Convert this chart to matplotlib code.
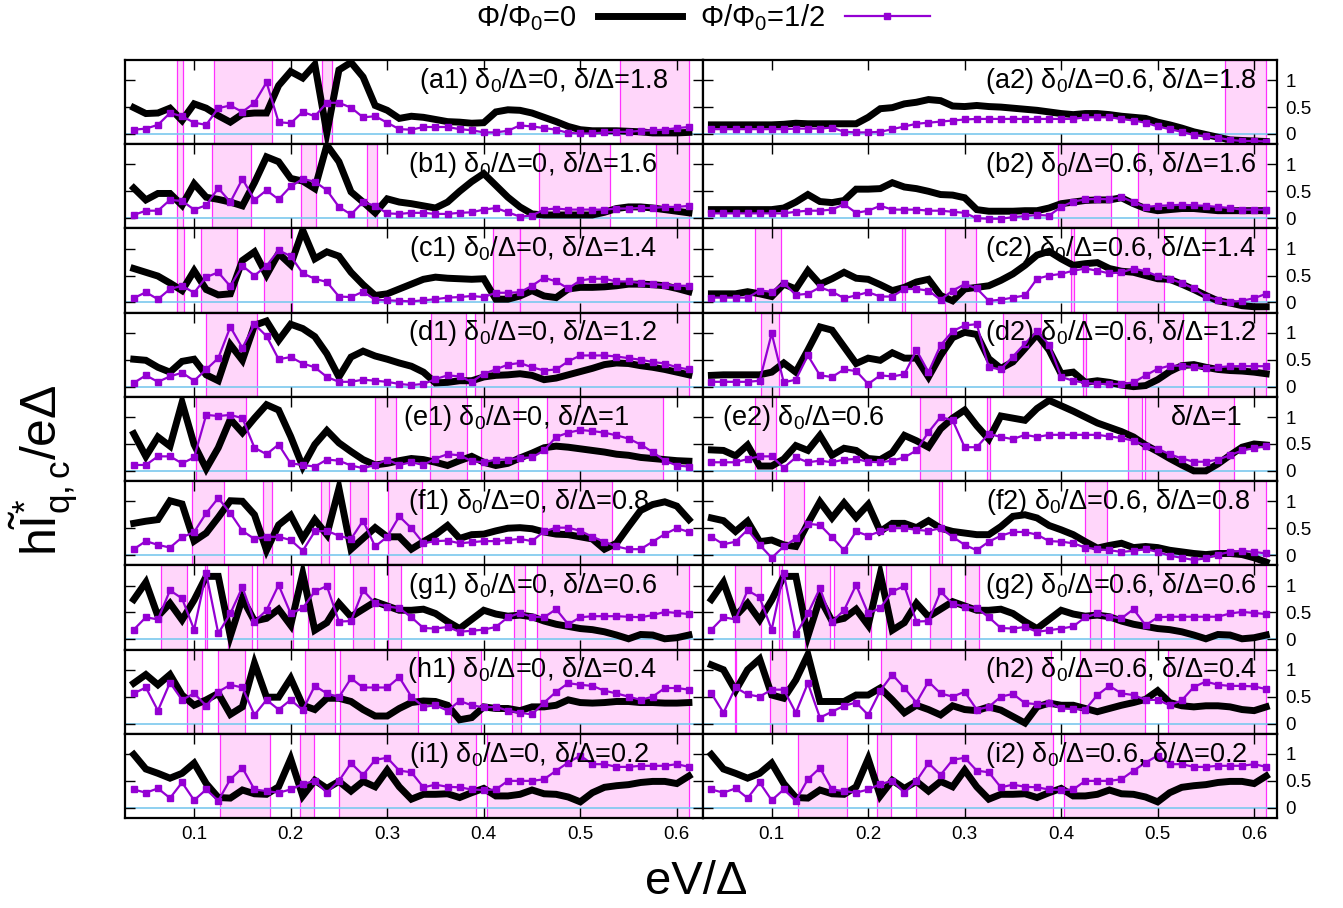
import matplotlib
matplotlib.use('Agg')
import matplotlib.pyplot as plt
from matplotlib.lines import Line2D

plt.rcParams['font.family'] = ['Liberation Sans', 'DejaVu Sans']
plt.rcParams['mathtext.fontset'] = 'custom'
plt.rcParams['mathtext.rm'] = 'Liberation Sans'
plt.rcParams['mathtext.it'] = 'Liberation Sans'
plt.rcParams['mathtext.bf'] = 'Liberation Sans:bold'
plt.rcParams['mathtext.default'] = 'regular'

# ---------------- data ----------------
eV = [0.0375, 0.05, 0.0625, 0.075, 0.0875, 0.1, 0.1125, 0.125, 0.1375, 0.15,
      0.1625, 0.175, 0.1875, 0.2, 0.2125, 0.225, 0.2375, 0.25, 0.2625, 0.275,
      0.2875, 0.3, 0.3125, 0.325, 0.3375, 0.35, 0.3625, 0.375, 0.3875, 0.4,
      0.4125, 0.425, 0.4375, 0.45, 0.4625, 0.475, 0.4875, 0.5, 0.5125, 0.525,
      0.5375, 0.55, 0.5625, 0.575, 0.5875, 0.6, 0.6125]

a1_black = [0.49, 0.38, 0.39, 0.48, 0.25, 0.56, 0.48, 0.34, 0.22, 0.37,
            0.39, 0.39, 0.90, 1.16, 1.04, 1.29, 0.02, 1.19, 1.33, 1.06,
            0.53, 0.44, 0.29, 0.33, 0.31, 0.27, 0.23, 0.22, 0.20, 0.21,
            0.41, 0.45, 0.44, 0.39, 0.31, 0.23, 0.14, 0.08, 0.06, 0.06,
            0.06, 0.05, 0.04, 0.02, 0.02, 0.02, 0.03]
a1_purple = [0.08, 0.10, 0.17, 0.39, 0.33, 0.21, 0.17, 0.48, 0.53, 0.41,
             0.58, 0.96, 0.22, 0.20, 0.41, 0.33, 0.58, 0.58, 0.49, 0.31,
             0.33, 0.21, 0.09, 0.08, 0.13, 0.13, 0.13, 0.09, 0.07, 0.03,
             0.03, 0.06, 0.16, 0.14, 0.11, 0.08, 0.02, 0.01, 0.01, 0.03,
             0.04, 0.04, 0.06, 0.07, 0.08, 0.11, 0.13]
b1_black = [0.56, 0.34, 0.46, 0.46, 0.24, 0.64, 0.39, 0.35, 0.30, 0.23,
            0.66, 1.14, 1.05, 0.74, 0.69, 0.55, 1.36, 1.05, 0.49, 0.30,
            0.10, 0.36, 0.30, 0.27, 0.23, 0.19, 0.30, 0.50, 0.68, 0.83,
            0.61, 0.39, 0.21, 0.08, 0.06, 0.06, 0.06, 0.06, 0.06, 0.11,
            0.18, 0.21, 0.21, 0.19, 0.16, 0.13, 0.10]
b1_purple = [0.06, 0.14, 0.14, 0.34, 0.32, 0.16, 0.24, 0.56, 0.30, 0.73,
             0.34, 0.52, 0.35, 0.59, 0.73, 0.68, 0.52, 0.21, 0.07, 0.30,
             0.23, 0.09, 0.08, 0.10, 0.10, 0.08, 0.08, 0.10, 0.11, 0.16,
             0.19, 0.11, 0.03, 0.05, 0.16, 0.18, 0.16, 0.16, 0.16, 0.16,
             0.18, 0.18, 0.19, 0.19, 0.21, 0.21, 0.23]
c1_black = [0.63, 0.56, 0.49, 0.36, 0.22, 0.59, 0.24, 0.14, 0.16, 0.78,
            0.94, 0.51, 0.91, 0.70, 1.34, 0.81, 0.94, 0.86, 0.56, 0.33,
            0.13, 0.16, 0.25, 0.34, 0.43, 0.47, 0.45, 0.44, 0.43, 0.44,
            0.06, 0.06, 0.12, 0.22, 0.12, 0.09, 0.25, 0.28, 0.28, 0.29,
            0.31, 0.34, 0.34, 0.33, 0.31, 0.26, 0.20]
c1_purple = [0.08, 0.19, 0.06, 0.25, 0.31, 0.18, 0.47, 0.56, 0.30, 0.68,
             0.50, 0.68, 0.97, 0.86, 0.54, 0.44, 0.38, 0.11, 0.10, 0.20,
             0.05, 0.04, 0.03, 0.02, 0.04, 0.06, 0.09, 0.10, 0.12, 0.10,
             0.18, 0.18, 0.19, 0.31, 0.46, 0.39, 0.26, 0.41, 0.44, 0.44,
             0.39, 0.39, 0.36, 0.34, 0.33, 0.31, 0.31]
d1_black = [0.51, 0.49, 0.36, 0.27, 0.47, 0.51, 0.22, 0.11, 0.78, 0.49,
            1.14, 1.22, 0.86, 1.16, 1.08, 0.93, 0.61, 0.18, 0.55, 0.66,
            0.57, 0.51, 0.44, 0.38, 0.27, 0.07, 0.08, 0.11, 0.11, 0.18,
            0.21, 0.22, 0.24, 0.21, 0.13, 0.16, 0.22, 0.28, 0.34, 0.41,
            0.44, 0.43, 0.39, 0.36, 0.32, 0.27, 0.22]
d1_purple = [0.07, 0.21, 0.09, 0.19, 0.26, 0.11, 0.32, 0.53, 1.11, 0.72,
             1.16, 0.94, 0.51, 0.55, 0.43, 0.36, 0.18, 0.09, 0.09, 0.13,
             0.11, 0.09, 0.05, 0.03, 0.05, 0.14, 0.21, 0.19, 0.09, 0.24,
             0.32, 0.41, 0.44, 0.36, 0.30, 0.32, 0.47, 0.58, 0.58, 0.58,
             0.56, 0.53, 0.50, 0.46, 0.43, 0.36, 0.32]
e1_black = [0.69, 0.27, 0.63, 0.46, 1.27, 0.49, 0.04, 0.43, 0.96, 0.71,
            0.98, 1.23, 1.13, 0.64, 0.08, 0.49, 0.75, 0.52, 0.36, 0.21,
            0.11, 0.14, 0.19, 0.23, 0.21, 0.16, 0.10, 0.19, 0.27, 0.16,
            0.10, 0.14, 0.24, 0.33, 0.43, 0.46, 0.44, 0.41, 0.38, 0.35,
            0.31, 0.29, 0.25, 0.23, 0.21, 0.19, 0.18]
e1_purple = [0.11, 0.11, 0.27, 0.27, 0.14, 0.25, 1.04, 1.02, 1.04, 0.98,
             0.43, 0.31, 0.49, 0.14, 0.11, 0.08, 0.21, 0.19, 0.10, 0.05,
             0.11, 0.21, 0.11, 0.16, 0.11, 0.23, 0.31, 0.29, 0.18, 0.16,
             0.21, 0.21, 0.24, 0.25, 0.38, 0.63, 0.71, 0.76, 0.74, 0.71,
             0.66, 0.60, 0.49, 0.35, 0.19, 0.10, 0.08]
f1_black = [0.59, 0.63, 0.66, 1.01, 0.95, 0.26, 0.41, 0.70, 1.01, 1.00,
            0.75, 0.09, 0.56, 0.74, 0.31, 0.66, 0.38, 1.24, 0.11, 0.31,
            0.51, 0.34, 0.34, 0.11, 0.25, 0.38, 0.55, 0.31, 0.38, 0.39,
            0.45, 0.50, 0.51, 0.49, 0.43, 0.39, 0.38, 0.34, 0.30, 0.11,
            0.22, 0.53, 0.83, 0.94, 0.99, 0.91, 0.66]
f1_purple = [0.11, 0.26, 0.19, 0.14, 0.33, 0.43, 0.78, 1.06, 0.78, 0.45,
             0.30, 0.34, 0.34, 0.28, 0.08, 0.44, 0.45, 0.36, 0.30, 0.64,
             0.16, 0.34, 0.72, 0.50, 0.22, 0.26, 0.27, 0.22, 0.24, 0.26,
             0.26, 0.28, 0.30, 0.26, 0.44, 0.51, 0.51, 0.45, 0.34, 0.25,
             0.16, 0.11, 0.11, 0.25, 0.39, 0.50, 0.43]
g1_black = [0.74, 1.06, 0.43, 0.67, 0.36, 0.73, 1.17, 1.17, 0.06, 0.76,
            0.34, 0.39, 0.56, 0.26, 1.22, 0.17, 0.31, 0.67, 0.42, 0.56,
            0.70, 0.62, 0.54, 0.54, 0.56, 0.48, 0.33, 0.20, 0.37, 0.54,
            0.47, 0.43, 0.45, 0.42, 0.34, 0.28, 0.24, 0.20, 0.18, 0.14,
            0.08, 0.01, 0.09, 0.08, 0.01, 0.03, 0.08]
g1_purple = [0.18, 0.41, 0.37, 0.91, 0.76, 0.18, 1.23, 0.11, 0.48, 0.97,
             0.33, 0.54, 1.01, 0.48, 0.58, 0.89, 0.99, 0.33, 0.34, 0.91,
             0.67, 0.61, 0.58, 0.41, 0.21, 0.20, 0.23, 0.14, 0.16, 0.18,
             0.23, 0.41, 0.49, 0.42, 0.41, 0.56, 0.28, 0.41, 0.43, 0.43,
             0.43, 0.42, 0.41, 0.45, 0.51, 0.49, 0.47]
h1_black = [0.75, 0.91, 0.72, 0.91, 0.53, 0.34, 0.44, 0.56, 0.17, 0.31,
            1.12, 0.49, 0.49, 0.84, 0.34, 0.26, 0.47, 0.47, 0.41, 0.26,
            0.14, 0.14, 0.28, 0.39, 0.42, 0.41, 0.34, 0.07, 0.11, 0.31,
            0.28, 0.28, 0.24, 0.31, 0.31, 0.34, 0.44, 0.39, 0.38, 0.39,
            0.41, 0.41, 0.39, 0.39, 0.38, 0.38, 0.39]
h1_purple = [0.56, 0.67, 0.24, 0.76, 0.44, 0.56, 0.33, 0.59, 0.72, 0.67,
             0.16, 0.44, 0.26, 0.44, 0.25, 0.70, 0.56, 0.49, 0.84, 0.67,
             0.67, 0.67, 0.86, 0.50, 0.31, 0.34, 0.24, 0.42, 0.34, 0.30,
             0.31, 0.24, 0.20, 0.17, 0.39, 0.59, 0.75, 0.72, 0.70, 0.61,
             0.56, 0.50, 0.44, 0.50, 0.66, 0.66, 0.63]
i1_black = [0.99, 0.72, 0.64, 0.55, 0.64, 0.83, 0.45, 0.19, 0.18, 0.33,
            0.26, 0.25, 0.39, 0.91, 0.22, 0.51, 0.36, 0.49, 0.31, 0.49,
            0.39, 0.70, 0.39, 0.16, 0.25, 0.25, 0.26, 0.19, 0.28, 0.36,
            0.22, 0.22, 0.25, 0.33, 0.26, 0.25, 0.20, 0.11, 0.28, 0.38,
            0.41, 0.43, 0.47, 0.49, 0.49, 0.45, 0.59]
i1_purple = [0.34, 0.28, 0.36, 0.18, 0.47, 0.14, 0.34, 0.13, 0.53, 0.74,
             0.34, 0.31, 0.28, 0.34, 0.44, 0.50, 0.28, 0.50, 0.83, 0.61,
             0.89, 0.93, 0.69, 0.66, 0.38, 0.43, 0.39, 0.38, 0.34, 0.33,
             0.34, 0.50, 0.50, 0.50, 0.53, 0.69, 0.84, 0.97, 0.81, 0.81,
             0.76, 0.76, 0.78, 0.78, 0.78, 0.81, 0.76]

a2_black = [0.17, 0.17, 0.17, 0.17, 0.17, 0.17, 0.18, 0.20, 0.19, 0.19,
            0.19, 0.19, 0.19, 0.31, 0.47, 0.49, 0.56, 0.59, 0.64, 0.62,
            0.52, 0.51, 0.53, 0.51, 0.50, 0.48, 0.46, 0.44, 0.41, 0.38,
            0.36, 0.38, 0.38, 0.36, 0.33, 0.31, 0.29, 0.22, 0.17, 0.11,
            0.04, -0.01, -0.06, -0.11, -0.12, -0.13, -0.14]
a2_purple = [0.09, 0.09, 0.09, 0.09, 0.09, 0.09, 0.09, 0.10, 0.10, 0.10,
             0.12, 0.04, 0.03, 0.03, 0.04, 0.09, 0.14, 0.19, 0.21, 0.23,
             0.25, 0.27, 0.28, 0.28, 0.28, 0.28, 0.28, 0.28, 0.28, 0.28,
             0.28, 0.31, 0.31, 0.31, 0.28, 0.25, 0.21, 0.14, 0.09, 0.04,
             -0.02, -0.04, -0.07, -0.11, -0.13, -0.13, -0.14]
b2_black = [0.16, 0.16, 0.16, 0.16, 0.16, 0.16, 0.19, 0.30, 0.44, 0.31,
            0.29, 0.33, 0.54, 0.54, 0.55, 0.66, 0.58, 0.55, 0.50, 0.44,
            0.43, 0.38, 0.16, 0.13, 0.13, 0.13, 0.14, 0.14, 0.19, 0.27,
            0.30, 0.33, 0.34, 0.34, 0.38, 0.27, 0.18, 0.14, 0.16, 0.18,
            0.18, 0.16, 0.14, 0.14, 0.14, 0.14, 0.14]
b2_purple = [0.09, 0.09, 0.09, 0.09, 0.09, 0.09, 0.09, 0.12, 0.14, 0.14,
             0.16, 0.26, 0.10, 0.14, 0.23, 0.16, 0.16, 0.16, 0.14, 0.14,
             0.12, 0.10, 0.00, -0.01, -0.01, 0.02, 0.04, 0.06, 0.05, 0.21,
             0.31, 0.35, 0.36, 0.35, 0.39, 0.30, 0.21, 0.23, 0.24, 0.25,
             0.24, 0.23, 0.21, 0.19, 0.16, 0.16, 0.16]
c2_black = [0.16, 0.16, 0.16, 0.20, 0.16, 0.11, 0.34, 0.25, 0.59, 0.34,
            0.44, 0.56, 0.45, 0.43, 0.33, 0.22, 0.28, 0.38, 0.43, 0.13,
            0.03, 0.25, 0.28, 0.31, 0.41, 0.53, 0.69, 0.88, 0.95, 0.81,
            0.69, 0.72, 0.74, 0.63, 0.58, 0.56, 0.50, 0.44, 0.43, 0.34,
            0.24, 0.13, 0.03, -0.01, -0.06, -0.08, -0.08]
c2_purple = [0.09, 0.09, 0.09, 0.09, 0.22, 0.20, 0.36, 0.14, 0.16, 0.28,
             0.20, 0.08, 0.13, 0.19, 0.11, 0.11, 0.25, 0.25, 0.22, 0.05,
             0.22, 0.34, 0.26, 0.03, 0.05, 0.09, 0.13, 0.44, 0.50, 0.53,
             0.59, 0.63, 0.59, 0.54, 0.56, 0.63, 0.58, 0.49, 0.44, 0.36,
             0.26, 0.11, 0.05, 0.01, 0.03, 0.08, 0.16]
d2_black = [0.21, 0.22, 0.22, 0.22, 0.22, 0.27, 0.44, 0.27, 0.68, 1.11,
            1.05, 0.74, 0.43, 0.53, 0.49, 0.63, 0.53, 0.53, 0.18, 0.58,
            0.91, 1.01, 0.97, 0.52, 0.34, 0.46, 0.71, 0.97, 0.68, 0.24,
            0.27, 0.08, 0.11, 0.08, 0.03, 0.00, 0.02, 0.13, 0.28, 0.39,
            0.41, 0.36, 0.32, 0.30, 0.29, 0.27, 0.24]
d2_purple = [0.09, 0.09, 0.09, 0.09, 0.11, 0.99, 0.08, 0.13, 0.58, 0.21,
             0.18, 0.32, 0.29, 0.05, 0.21, 0.19, 0.23, 0.68, 0.27, 0.77,
             1.03, 1.14, 1.16, 0.36, 0.32, 0.56, 0.80, 1.03, 0.78, 0.18,
             0.11, 0.07, 0.05, 0.05, 0.05, 0.08, 0.21, 0.33, 0.39, 0.39,
             0.36, 0.34, 0.36, 0.38, 0.38, 0.38, 0.38]
e2_black = [0.39, 0.38, 0.28, 0.48, 0.09, 0.09, 0.22, 0.47, 0.38, 0.66,
            0.29, 0.42, 0.38, 0.23, 0.21, 0.34, 0.66, 0.56, 0.44, 0.78,
            0.98, 1.13, 0.84, 0.59, 1.02, 0.98, 0.94, 1.16, 1.31, 1.21,
            1.11, 1.00, 0.89, 0.81, 0.73, 0.63, 0.48, 0.36, 0.23, 0.11,
            0.00, 0.00, 0.13, 0.29, 0.44, 0.50, 0.48]
e2_purple = [0.16, 0.16, 0.16, 0.22, 0.27, 0.27, 0.06, 0.25, 0.16, 0.19,
             0.16, 0.21, 0.22, 0.17, 0.16, 0.19, 0.25, 0.38, 0.72, 1.00,
             0.94, 0.44, 0.44, 0.69, 0.63, 0.59, 0.67, 0.63, 0.67, 0.67,
             0.67, 0.67, 0.67, 0.64, 0.61, 0.56, 0.47, 0.41, 0.31, 0.23,
             0.17, 0.17, 0.21, 0.29, 0.38, 0.42, 0.46]
f2_black = [0.69, 0.64, 0.44, 0.63, 0.25, 0.28, 0.19, 0.16, 0.59, 0.99,
            0.69, 0.97, 0.70, 0.94, 0.44, 0.59, 0.59, 0.51, 0.64, 0.50,
            0.44, 0.41, 0.38, 0.38, 0.53, 0.72, 0.75, 0.69, 0.55, 0.47,
            0.38, 0.25, 0.13, 0.18, 0.22, 0.14, 0.16, 0.14, 0.09, 0.06,
            0.03, 0.01, 0.03, 0.03, 0.01, -0.05, -0.13]
f2_purple = [0.34, 0.20, 0.25, 0.47, 0.19, -0.05, 0.16, 0.31, 0.58, 0.56,
             0.33, 0.09, 0.44, 0.36, 0.44, 0.50, 0.50, 0.47, 0.45, 0.50,
             0.34, 0.19, 0.09, 0.25, 0.36, 0.43, 0.43, 0.38, 0.26, 0.25,
             0.22, 0.14, 0.11, 0.09, 0.06, 0.08, 0.11, 0.06, -0.01, -0.05,
             -0.09, -0.06, 0.01, 0.06, 0.08, 0.06, 0.03]
g2_black = [0.74, 1.06, 0.43, 0.67, 0.36, 0.73, 1.17, 1.17, 0.06, 0.76,
            0.34, 0.39, 0.56, 0.26, 1.22, 0.17, 0.31, 0.67, 0.42, 0.56,
            0.70, 0.62, 0.54, 0.54, 0.56, 0.48, 0.33, 0.20, 0.37, 0.54,
            0.47, 0.43, 0.45, 0.42, 0.34, 0.28, 0.24, 0.20, 0.18, 0.14,
            0.08, 0.01, 0.09, 0.08, 0.01, 0.03, 0.08]
g2_purple = [0.18, 0.41, 0.37, 0.91, 0.78, 0.18, 1.23, 0.09, 0.48, 0.95,
             0.33, 0.54, 1.01, 0.48, 0.58, 0.89, 0.99, 0.33, 0.34, 0.89,
             0.66, 0.61, 0.58, 0.41, 0.21, 0.20, 0.23, 0.14, 0.17, 0.20,
             0.24, 0.41, 0.48, 0.42, 0.39, 0.56, 0.26, 0.41, 0.42, 0.42,
             0.42, 0.42, 0.42, 0.48, 0.51, 0.49, 0.47]
h2_black = [1.09, 1.00, 0.61, 1.00, 1.20, 0.53, 0.47, 0.81, 1.28, 0.41,
            0.41, 0.41, 0.53, 0.53, 0.66, 0.44, 0.20, 0.34, 0.26, 0.16,
            0.33, 0.26, 0.24, 0.31, 0.25, 0.13, 0.01, 0.31, 0.38, 0.34,
            0.34, 0.28, 0.22, 0.28, 0.34, 0.39, 0.45, 0.61, 0.39, 0.33,
            0.31, 0.33, 0.33, 0.31, 0.26, 0.24, 0.31]
h2_purple = [0.56, 0.20, 0.67, 0.54, 0.50, 0.63, 0.63, 0.20, 0.75, 0.11,
             0.22, 0.33, 0.39, 0.16, 0.61, 0.91, 0.66, 0.39, 0.78, 0.56,
             0.50, 0.59, 0.26, 0.31, 0.50, 0.55, 0.38, 0.36, 0.38, 0.28,
             0.27, 0.26, 0.53, 0.70, 0.56, 0.53, 0.44, 0.44, 0.34, 0.43,
             0.68, 0.78, 0.72, 0.70, 0.70, 0.69, 0.64]
i2_black = [0.99, 0.72, 0.64, 0.55, 0.64, 0.83, 0.45, 0.19, 0.18, 0.33,
            0.26, 0.25, 0.39, 0.91, 0.22, 0.51, 0.36, 0.49, 0.31, 0.49,
            0.39, 0.70, 0.39, 0.16, 0.25, 0.25, 0.26, 0.19, 0.28, 0.36,
            0.22, 0.22, 0.25, 0.33, 0.26, 0.25, 0.20, 0.11, 0.28, 0.38,
            0.41, 0.43, 0.47, 0.49, 0.49, 0.45, 0.59]
i2_purple = [0.34, 0.28, 0.36, 0.18, 0.47, 0.14, 0.34, 0.13, 0.53, 0.74,
             0.34, 0.31, 0.28, 0.34, 0.44, 0.50, 0.28, 0.50, 0.83, 0.61,
             0.89, 0.93, 0.69, 0.66, 0.38, 0.43, 0.39, 0.38, 0.34, 0.33,
             0.34, 0.50, 0.50, 0.50, 0.53, 0.69, 0.84, 0.97, 0.81, 0.81,
             0.76, 0.76, 0.78, 0.78, 0.78, 0.81, 0.76]

# shaded eV intervals (start, end)
a1_spans = [(0.0826, 0.0884), (0.1201, 0.1805), (0.2327, 0.2432), (0.5412, 0.6128)]
b1_spans = [(0.0826, 0.0884), (0.1186, 0.1588), (0.2103, 0.2258), (0.2788, 0.2896),
            (0.4568, 0.5303), (0.5779, 0.6128)]
c1_spans = [(0.0826, 0.0892), (0.1070, 0.1445), (0.1728, 0.2018), (0.4096, 0.4375),
            (0.4375, 0.6128)]
d1_spans = [(0.1124, 0.1650), (0.3457, 0.3816), (0.3914, 0.6128)]
e1_spans = [(0.1019, 0.1534), (0.2877, 0.3090), (0.3446, 0.3825), (0.3972, 0.4359),
            (0.4657, 0.5857)]
f1_spans = [(0.0981, 0.1310), (0.1716, 0.1805), (0.2316, 0.2393), (0.2614, 0.2800),
            (0.3005, 0.3361), (0.4599, 0.5327)]
g1_spans = [(0.0652, 0.0923), (0.1108, 0.1135), (0.1348, 0.1600), (0.1650, 0.2026),
            (0.2180, 0.2451), (0.2645, 0.2858), (0.3005, 0.3148), (0.4309, 0.4425),
            (0.4553, 0.6128)]
h1_spans = [(0.0930, 0.1077), (0.1252, 0.1522), (0.2149, 0.2463), (0.2509, 0.3322),
            (0.3659, 0.3972), (0.4289, 0.4386), (0.4580, 0.6128)]
i1_spans = [(0.1271, 0.1786), (0.2095, 0.2238), (0.2502, 0.3922), (0.4038, 0.6128)]
a2_spans = [(0.5695, 0.6123)]
b2_spans = [(0.3971, 0.4514), (0.4796, 0.6123)]
c2_spans = [(0.0822, 0.1099), (0.2347, 0.2379), (0.2795, 0.3120), (0.4102, 0.4130),
            (0.4574, 0.5069), (0.5489, 0.6123)]
d2_spans = [(0.0893, 0.1079), (0.2446, 0.2803), (0.3397, 0.3793), (0.4229, 0.4260),
            (0.4665, 0.5267), (0.5517, 0.6123)]
e2_spans = [(0.0822, 0.1048), (0.2533, 0.2862), (0.3231, 0.3259), (0.4697, 0.4843),
            (0.4871, 0.5794)]
f2_spans = [(0.1131, 0.1337), (0.2731, 0.2763), (0.4249, 0.4475), (0.5636, 0.6123)]
g2_spans = [(0.0620, 0.0890), (0.1078, 0.1107), (0.1346, 0.1603), (0.1648, 0.2024),
            (0.2180, 0.2448), (0.2640, 0.2860), (0.3003, 0.3150), (0.4298, 0.4415),
            (0.4550, 0.6123)]
h2_spans = [(0.0616, 0.0632), (0.0980, 0.1147), (0.2129, 0.3892), (0.4197, 0.4871),
            (0.5109, 0.6123)]
i2_spans = [(0.1268, 0.1783), (0.2092, 0.2237), (0.2498, 0.3913), (0.4031, 0.6125)]

left_labels = ['(a1) δ$_0$/Δ=0, δ/Δ=1.8', '(b1) δ$_0$/Δ=0, δ/Δ=1.6',
               '(c1) δ$_0$/Δ=0, δ/Δ=1.4', '(d1) δ$_0$/Δ=0, δ/Δ=1.2',
               '(e1) δ$_0$/Δ=0, δ/Δ=1', '(f1) δ$_0$/Δ=0, δ/Δ=0.8',
               '(g1) δ$_0$/Δ=0, δ/Δ=0.6', '(h1) δ$_0$/Δ=0, δ/Δ=0.4',
               '(i1) δ$_0$/Δ=0, δ/Δ=0.2']
right_labels = ['(a2) δ$_0$/Δ=0.6, δ/Δ=1.8', '(b2) δ$_0$/Δ=0.6, δ/Δ=1.6',
                '(c2) δ$_0$/Δ=0.6, δ/Δ=1.4', '(d2) δ$_0$/Δ=0.6, δ/Δ=1.2',
                '(e2) δ$_0$/Δ=0.6', '(f2) δ$_0$/Δ=0.6, δ/Δ=0.8',
                '(g2) δ$_0$/Δ=0.6, δ/Δ=0.6', '(h2) δ$_0$/Δ=0.6, δ/Δ=0.4',
                '(i2) δ$_0$/Δ=0.6, δ/Δ=0.2']
e2_extra_label = 'δ/Δ=1'
x_ticks = [0.1, 0.2, 0.3, 0.4, 0.5, 0.6]
x_tick_labels = ['0.1', '0.2', '0.3', '0.4', '0.5', '0.6']
y_ticks = [0, 0.5, 1]
y_tick_labels = ['0', '0.5', '1']
legend_labels = ['Φ/Φ$_0$=0', 'Φ/Φ$_0$=1/2']

# ---------------- figure ----------------
W, H = 1343, 908
fig = plt.figure(figsize=(W / 100, H / 100), dpi=100)

PURPLE = '#9400d3'
PINK = '#ffd6fa'
MAGENTA = '#ff30ff'
ZERO = '#7cc8ee'

left_panels = [(a1_black, a1_purple, a1_spans), (b1_black, b1_purple, b1_spans),
               (c1_black, c1_purple, c1_spans), (d1_black, d1_purple, d1_spans),
               (e1_black, e1_purple, e1_spans), (f1_black, f1_purple, f1_spans),
               (g1_black, g1_purple, g1_spans), (h1_black, h1_purple, h1_spans),
               (i1_black, i1_purple, i1_spans)]
right_panels = [(a2_black, a2_purple, a2_spans), (b2_black, b2_purple, b2_spans),
                (c2_black, c2_purple, c2_spans), (d2_black, d2_purple, d2_spans),
                (e2_black, e2_purple, e2_spans), (f2_black, f2_purple, f2_spans),
                (g2_black, g2_purple, g2_spans), (h2_black, h2_purple, h2_spans),
                (i2_black, i2_purple, i2_spans)]

left_text_x = [0.94, 0.92, 0.92, 0.92, 0.873, 0.908, 0.92, 0.92, 0.907]
right_text_x = [0.965, 0.965, 0.962, 0.965, 0.033, 0.954, 0.965, 0.965, 0.949]

top_px, bot_px = 60, 818
row_h = (bot_px - top_px) / 9.0
cols = [(125, 703, (0.0284, 0.6271)), (703, 1277, (0.0288, 0.6237))]
TXT = 19.5

for c, (x0, x1, xl) in enumerate(cols):
    panels = left_panels if c == 0 else right_panels
    labels = left_labels if c == 0 else right_labels
    txs = left_text_x if c == 0 else right_text_x
    for r in range(9):
        yb = top_px + (r + 1) * row_h
        ax = fig.add_axes([x0 / W, 1 - yb / H, (x1 - x0) / W, row_h / H])
        blk, pur, spans = panels[r]
        for s0, s1 in spans:
            ax.axvspan(s0, s1, facecolor=PINK, edgecolor=MAGENTA, lw=0.9, zorder=0)
        ax.axhline(0, color=ZERO, lw=1.2, zorder=1)
        ax.plot(eV, blk, color='black', lw=5, solid_joinstyle='miter', zorder=2)
        ax.plot(eV, pur, color=PURPLE, lw=1.6, marker='s', ms=4.2, zorder=3)
        ax.set_xlim(*xl)
        ax.set_ylim(-0.19, 1.375)
        ax.set_xticks(x_ticks)
        ax.set_yticks(y_ticks)
        ax.tick_params(direction='in', top=True, bottom=True, left=True, right=True,
                       length=7, width=1, labelsize=13.5, pad=6)
        ax.tick_params(labelleft=False, labelright=(c == 1), labeltop=False,
                       labelbottom=(r == 8))
        ax.set_xticklabels(x_tick_labels)
        ax.set_yticklabels(y_tick_labels)
        for sp in ax.spines.values():
            sp.set_linewidth(1.6)
        if c == 1 and r == 4:
            ax.text(txs[r], 0.67, labels[r], transform=ax.transAxes, ha='left',
                    va='baseline', fontsize=TXT, zorder=5)
            ax.text(0.94, 0.67, e2_extra_label, transform=ax.transAxes, ha='right',
                    va='baseline', fontsize=TXT, zorder=5)
        else:
            ax.text(txs[r], 0.67, labels[r], transform=ax.transAxes, ha='right',
                    va='baseline', fontsize=TXT, zorder=5)

# axis labels
fig.text(44 / W, 1 - 470 / H, r'h$\tilde{I}^{*}_{q,c}$/eΔ', rotation=90,
         fontsize=36, ha='center', va='center')
fig.text(696 / W, 1 - 882 / H, 'eV/Δ', fontsize=34, ha='center', va='center')

# legend
handles = [Line2D([], [], color='black', lw=5),
           Line2D([], [], color=PURPLE, lw=1.6, marker='s', ms=4.2)]
fig.legend(handles, legend_labels, loc='center', bbox_to_anchor=(703 / W, 1 - 18 / H),
           ncol=2, frameon=False, markerfirst=False, fontsize=21,
           handlelength=2.9, handletextpad=0.7, columnspacing=0.6, numpoints=1)

fig.savefig('out.png', dpi=100)
